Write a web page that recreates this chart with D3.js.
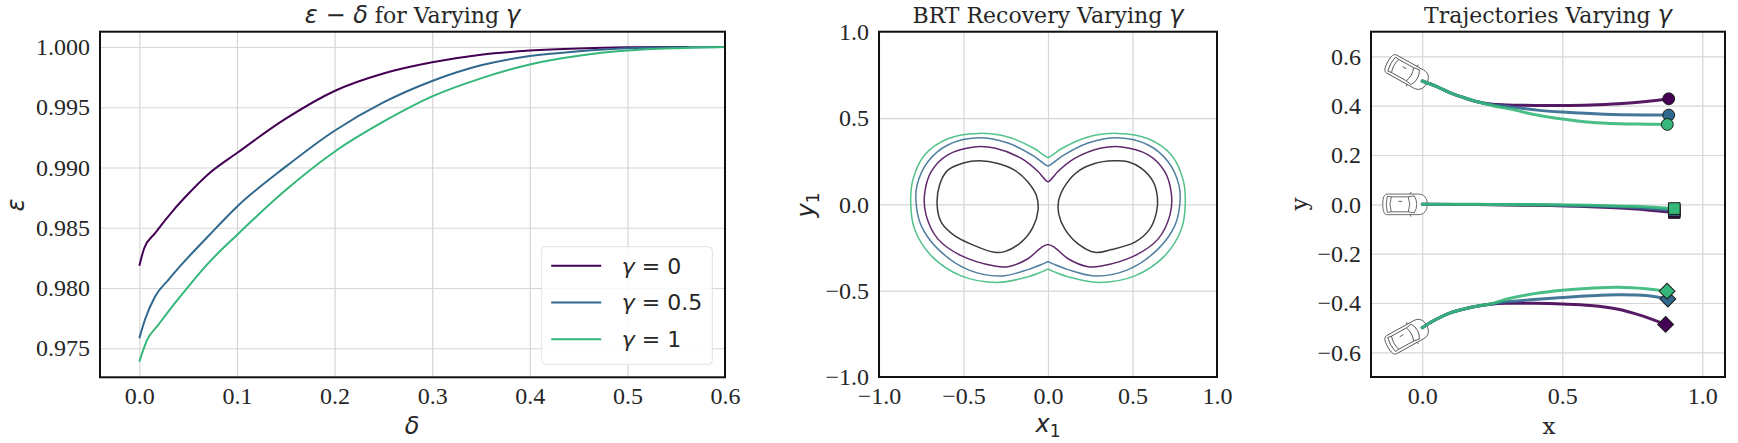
<!DOCTYPE html>
<html>
<head>
<meta charset="utf-8">
<title>epsilon delta, BRT, trajectories</title>
<script src="https://d3js.org/d3.v7.min.js"></script>
<style>
    body { margin: 0; background: #fff; }
    .serif { font-family: "DejaVu Serif", serif; fill: #262626; }
    .math { font-family: "DejaVu Sans", sans-serif; font-style: italic; }
    .upright { font-style: normal; }
</style>
</head>
<body>
<svg id="fig" width="1738" height="443"></svg>
<script>
// ---- data: epsilon vs delta for each gamma ----
var gammaLabels = ["0", "0.5", "1"];
var gammaColors = ["#440154", "#31688e", "#35b779"];

var epsG0 = [[0,0.98185],[0.005,0.9833],[0.016,0.98454],[0.035,0.98647],[0.05,0.9878],[0.07,0.9894],
    [0.1,0.9912],[0.15,0.99405],[0.2,0.99635],[0.25,0.9978],[0.3,0.99873],[0.35,0.99936],
    [0.4,0.9997],[0.45,0.99988],[0.5,0.99997],[0.563,1.0]];
var epsG05 = [[0,0.97583],[0.006,0.97743],[0.016,0.97928],[0.03,0.9807],[0.045,0.9821],[0.07,0.98425],
    [0.1,0.98675],[0.15,0.99007],[0.2,0.99305],[0.25,0.9954],[0.3,0.99718],[0.35,0.99848],
    [0.4,0.99925],[0.45,0.99965],[0.5,0.9999],[0.55,0.99998],[0.6,1.0]];
var epsG1 = [[0,0.97389],[0.008,0.97569],[0.02,0.977],[0.035,0.9786],[0.05,0.9801],[0.07,0.982],
    [0.1,0.9844],[0.15,0.98813],[0.2,0.99131],[0.25,0.9938],[0.3,0.9959],[0.35,0.9974],
    [0.4,0.99855],[0.45,0.99927],[0.5,0.9997],[0.55,0.9999],[0.6,1.0]];

var deltaTicks = [0, 0.1, 0.2, 0.3, 0.4, 0.5, 0.6];
var epsTicks = [0.975, 0.98, 0.985, 0.99, 0.995, 1.0];

// ---- data: BRT contours (x1, y1) ----
var brtLeftLobe = [[-0.656,-0.006],[-0.642,0.111],[-0.593,0.198],[-0.5,0.24],[-0.405,0.252],[-0.296,0.237],
    [-0.198,0.198],[-0.119,0.13],[-0.069,0.052],[-0.059,-0.035],[-0.089,-0.132],[-0.158,-0.219],
    [-0.257,-0.274],[-0.316,-0.278],[-0.435,-0.239],[-0.553,-0.181],[-0.632,-0.103]];
var brtRightLobe = [[0.385,0.252],[0.277,0.237],[0.188,0.198],[0.109,0.12],[0.063,0.023],[0.063,-0.054],
    [0.099,-0.142],[0.178,-0.229],[0.277,-0.278],[0.375,-0.262],[0.514,-0.219],[0.603,-0.142],
    [0.642,-0.045],[0.648,0.033],[0.623,0.13],[0.553,0.208],[0.474,0.247]];
var brtG0 = [[0,0.131],[-0.025,0.152],[-0.059,0.19],[-0.158,0.266],[-0.316,0.326],[-0.425,0.334],[-0.593,0.287],
    [-0.692,0.188],[-0.731,0.052],[-0.721,-0.064],[-0.652,-0.2],[-0.514,-0.297],[-0.316,-0.357],
    [-0.237,-0.361],[-0.119,-0.315],[-0.04,-0.25],[0,-0.232],[0.04,-0.25],[0.119,-0.315],
    [0.237,-0.361],[0.316,-0.357],[0.514,-0.297],[0.652,-0.2],[0.721,-0.064],[0.731,0.052],
    [0.692,0.188],[0.593,0.287],[0.425,0.334],[0.316,0.326],[0.158,0.266],[0.059,0.19],[0.025,0.152]];
var brtG05 = [[0,0.222],[-0.03,0.24],[-0.079,0.276],[-0.237,0.355],[-0.415,0.386],[-0.593,0.344],[-0.711,0.247],
    [-0.775,0.111],[-0.781,0.014],[-0.751,-0.122],[-0.652,-0.258],[-0.474,-0.378],[-0.277,-0.415],
    [-0.119,-0.378],[-0.03,-0.345],[0,-0.332],[0.03,-0.345],[0.119,-0.378],[0.277,-0.415],[0.474,-0.378],[0.652,-0.258],
    [0.751,-0.122],[0.781,0.014],[0.775,0.111],[0.711,0.247],[0.593,0.344],[0.415,0.386],
    [0.237,0.355],[0.079,0.276],[0.03,0.24]];
var brtG1 = [[0,0.272],[-0.03,0.288],[-0.079,0.322],[-0.237,0.39],[-0.415,0.411],[-0.593,0.38],[-0.731,0.285],
    [-0.8,0.14],[-0.812,0.0],[-0.79,-0.142],[-0.692,-0.297],[-0.514,-0.414],[-0.3,-0.452],
    [-0.119,-0.42],[-0.03,-0.388],[0,-0.376],[0.03,-0.388],[0.119,-0.42],[0.3,-0.452],[0.514,-0.414],[0.692,-0.297],
    [0.79,-0.142],[0.812,0.0],[0.8,0.14],[0.731,0.285],[0.593,0.38],[0.415,0.411],
    [0.237,0.39],[0.079,0.322],[0.03,0.288]];
var brtTicks = [-1, -0.5, 0, 0.5, 1];

// ---- data: trajectories (x, y) per gamma: [top, middle, bottom] ----
var trajG0 = [
    [[0,0.5],[0.05,0.478],[0.1,0.452],[0.15,0.432],[0.2,0.415],[0.25,0.406],[0.3,0.403],[0.4,0.401],
     [0.5,0.401],[0.6,0.403],[0.7,0.408],[0.8,0.417],[0.88,0.428]],
    [[0,0],[0.2,-0.001],[0.4,-0.004],[0.6,-0.01],[0.75,-0.018],[0.9,-0.033]],
    [[0,-0.5],[0.05,-0.466],[0.1,-0.44],[0.15,-0.424],[0.2,-0.412],[0.25,-0.404],[0.3,-0.401],
     [0.4,-0.401],[0.5,-0.404],[0.6,-0.41],[0.7,-0.425],[0.78,-0.45],[0.869,-0.487]]
];
var trajG05 = [
    [[0,0.5],[0.05,0.478],[0.1,0.452],[0.15,0.432],[0.2,0.415],[0.25,0.404],[0.32,0.395],[0.41,0.382],
     [0.5,0.374],[0.65,0.365],[0.8,0.362],[0.88,0.362]],
    [[0,0],[0.2,-0.001],[0.4,-0.003],[0.6,-0.007],[0.75,-0.013],[0.9,-0.025]],
    [[0,-0.5],[0.05,-0.466],[0.1,-0.44],[0.15,-0.424],[0.2,-0.412],[0.25,-0.404],[0.3,-0.395],
     [0.4,-0.386],[0.5,-0.378],[0.6,-0.371],[0.7,-0.367],[0.8,-0.37],[0.877,-0.384]]
];
var trajG1 = [
    [[0,0.5],[0.05,0.478],[0.1,0.452],[0.15,0.432],[0.2,0.415],[0.25,0.401],[0.32,0.385],[0.41,0.362],
     [0.5,0.346],[0.6,0.333],[0.7,0.327],[0.8,0.325],[0.875,0.324]],
    [[0,0],[0.2,0],[0.4,-0.001],[0.6,-0.004],[0.75,-0.008],[0.9,-0.017]],
    [[0,-0.5],[0.05,-0.466],[0.1,-0.44],[0.15,-0.424],[0.2,-0.412],[0.25,-0.402],[0.3,-0.385],
     [0.4,-0.362],[0.5,-0.348],[0.6,-0.34],[0.7,-0.336],[0.8,-0.342],[0.874,-0.352]]
];
var carStarts = [{x: 0, y: 0.5, heading: 29}, {x: 0, y: 0, heading: 0}, {x: 0, y: -0.5, heading: -29}];
var endShapes = ["circle", "square", "diamond"];
var trajXTicks = [0, 0.5, 1.0];
var trajYTicks = [-0.6, -0.4, -0.2, 0, 0.2, 0.4, 0.6];

var svg = d3.select("#fig");

// draw one axes box with grid + tick labels, returns scales
function makePanel(box, xDom, yDom, xTicks, yTicks, xFmt, yFmt) {
    var x = d3.scaleLinear().domain(xDom).range([box.left, box.right]);
    var y = d3.scaleLinear().domain(yDom).range([box.bottom, box.top]);
    var g = svg.append("g");
    var h = box.bottom - box.top, w = box.right - box.left;

    var ax = g.append("g")
        .attr("transform", "translate(0," + box.bottom + ")")
        .call(d3.axisBottom(x).tickValues(xTicks).tickFormat(d3.format(xFmt))
            .tickSizeInner(-h).tickSizeOuter(0).tickPadding(10));
    var ay = g.append("g")
        .attr("transform", "translate(" + box.left + ",0)")
        .call(d3.axisLeft(y).tickValues(yTicks).tickFormat(d3.format(yFmt))
            .tickSizeInner(-w).tickSizeOuter(0).tickPadding(10));
    [ax, ay].forEach(function(a) {
        a.select(".domain").remove();
        a.selectAll(".tick line").attr("stroke", "#d6d6d6").attr("stroke-width", 1.2);
        a.selectAll(".tick text")
            .style("font-family", "'Liberation Serif', serif")
            .style("font-size", "24px")
            .attr("fill", "#262626");
    });

    var plot = g.append("g");
    // frame on top
    g.append("rect")
        .attr("x", box.left).attr("y", box.top).attr("width", w).attr("height", h)
        .attr("fill", "none").attr("stroke", "#111").attr("stroke-width", 2);
    return {x: x, y: y, plot: plot, g: g, box: box};
}

// title with mixed math and serif parts
function addTitle(p, parts) {
    var t = svg.append("text")
        .attr("x", (p.box.left + p.box.right) / 2)
        .attr("y", 23)
        .attr("text-anchor", "middle")
        .attr("class", "serif")
        .style("font-size", "22px");
    parts.forEach(function(s) {
        var sp = t.append("tspan").attr("class", s[1]).text(s[0]);
        if (s[1].indexOf("math") >= 0) sp.style("font-size", "24px");
    });
}

// ---------------- panel 1 ----------------
var p1 = makePanel({left: 100, right: 725, top: 31.7, bottom: 377.3},
    [-0.0403, 0.6], [0.97259, 1.00127], deltaTicks, epsTicks, ".1f", ".3f");

var line1 = d3.line().x(function(d) { return p1.x(d[0]); }).y(function(d) { return p1.y(d[1]); })
    .curve(d3.curveMonotoneX);
[epsG0, epsG05, epsG1].forEach(function(s, i) {
    p1.plot.append("path").datum(s)
        .attr("d", line1)
        .attr("fill", "none")
        .attr("stroke", gammaColors[i])
        .attr("stroke-width", 2);
});

addTitle(p1, [["\u03b5", "math"], [" \u2212 ", "math upright"], ["\u03b4", "math"], [" for Varying ", ""], ["\u03b3", "math"]]);

svg.append("text").attr("class", "math").attr("x", 412).attr("y", 434)
    .attr("text-anchor", "middle").style("font-size", "24px").attr("fill", "#262626").text("\u03b4");
svg.append("text").attr("class", "math").attr("transform", "translate(24,205) rotate(-90)")
    .attr("text-anchor", "middle").style("font-size", "24px").attr("fill", "#262626").text("\u03b5");

// legend
var leg = svg.append("g").attr("transform", "translate(541.7,246.7)");
leg.append("rect").attr("width", 170.6).attr("height", 117.6).attr("rx", 4)
    .attr("fill", "#fff").attr("fill-opacity", 0.85).attr("stroke", "#e2e2e2").attr("stroke-width", 1);
gammaLabels.forEach(function(lbl, i) {
    var yy = 19 + i * 36.8;
    leg.append("line").attr("x1", 9.5).attr("x2", 59.5).attr("y1", yy).attr("y2", yy)
        .attr("stroke", gammaColors[i]).attr("stroke-width", 2);
    var t = leg.append("text").attr("x", 80).attr("y", yy + 8)
        .style("font-family", "DejaVu Sans").style("font-size", "22px").attr("fill", "#262626");
    t.append("tspan").style("font-style", "italic").text("\u03b3");
    t.append("tspan").text(" = " + lbl);
});

// ---------------- panel 2 ----------------
var p2 = makePanel({left: 879, right: 1217, top: 31.7, bottom: 377},
    [-1, 1], [-1, 1], brtTicks, brtTicks, ".1f", ".1f");
var line2 = d3.line().x(function(d) { return p2.x(d[0]); }).y(function(d) { return p2.y(d[1]); })
    .curve(d3.curveCatmullRomClosed.alpha(0.5));
var contours = [
    {pts: brtLeftLobe, c: "#1a1a1a"}, {pts: brtRightLobe, c: "#1a1a1a"},
    {pts: brtG0, c: gammaColors[0]}, {pts: brtG05, c: gammaColors[1]}, {pts: brtG1, c: gammaColors[2]}
];
contours.forEach(function(c) {
    p2.plot.append("path").datum(c.pts)
        .attr("d", line2).attr("fill", "none")
        .attr("stroke", c.c).attr("stroke-opacity", 0.85).attr("stroke-width", 1.5);
});
addTitle(p2, [["BRT Recovery Varying ", ""], ["\u03b3", "math"]]);

var xl2 = svg.append("text").attr("class", "math").attr("x", 1048).attr("y", 432)
    .attr("text-anchor", "middle").style("font-size", "24px").attr("fill", "#262626");
xl2.append("tspan").text("x");
xl2.append("tspan").attr("class", "upright").attr("dy", 5).style("font-size", "17px").text("1");
var yl2 = svg.append("text").attr("class", "math").attr("transform", "translate(814,205) rotate(-90)")
    .attr("text-anchor", "middle").style("font-size", "24px").attr("fill", "#262626");
yl2.append("tspan").text("y");
yl2.append("tspan").attr("class", "upright").attr("dy", 5).style("font-size", "17px").text("1");

// ---------------- panel 3 ----------------
var p3 = makePanel({left: 1371, right: 1725, top: 31.7, bottom: 377},
    [-0.183, 1.081], [-0.7, 0.7], trajXTicks, trajYTicks, ".1f", ".1f");
var line3 = d3.line().x(function(d) { return p3.x(d[0]); }).y(function(d) { return p3.y(d[1]); })
    .curve(d3.curveCatmullRom);

// cars at the start positions (top view, front at start point)
function drawCar(g, cx, cy, angle) {
    var car = g.append("g").attr("transform", "translate(" + cx + "," + cy + ") rotate(" + angle + ")")
        .attr("fill", "#fff").attr("stroke", "#444").attr("stroke-width", 0.8);
    car.append("path").attr("d", "M-35,-10.3 L-4,-10.3 C2,-10.3 5,-6 5,0 C5,6 2,10.3 -4,10.3 L-35,10.3 C-38,10.3 -39.5,7 -39.5,0 C-39.5,-7 -38,-10.3 -35,-10.3 Z");
    car.append("path").attr("d", "M-14,-7.5 L-8,-8.5 Q-3,0 -8,8.5 L-14,7.5 Q-11,0 -14,-7.5 Z");
    car.append("path").attr("d", "M-31,-7.5 Q-33.5,0 -31,7.5 L-35,8 Q-37,0 -35,-8 Z");
    car.append("path").attr("fill", "none").attr("d", "M-14,-7.5 L-31,-7.5 M-14,7.5 L-31,7.5 M-12,-10.3 L-11,-12.3 M-12,10.3 L-11,12.3 M-24,-3 L-20,-3");
}
carStarts.forEach(function(c) {
    drawCar(p3.plot, p3.x(c.x), p3.y(c.y), c.heading);
});

[trajG0, trajG05, trajG1].forEach(function(set, gi) {
    set.forEach(function(tr, ti) {
        p3.plot.append("path").datum(tr)
            .attr("d", line3).attr("fill", "none")
            .attr("stroke", gammaColors[gi]).attr("stroke-opacity", 0.9)
            .attr("stroke-width", 3).attr("stroke-linecap", "round");
    });
    set.forEach(function(tr, ti) {
        var end = tr[tr.length - 1];
        var shape = endShapes[ti];
        var sym, rot = 0;
        if (shape == "circle") {
            sym = d3.symbol().type(d3.symbolCircle).size(110);
        } else if (shape == "square") {
            sym = d3.symbol().type(d3.symbolSquare).size(135);
        } else {
            sym = d3.symbol().type(d3.symbolSquare).size(125);
            rot = 45;
        }
        p3.plot.append("path")
            .attr("d", sym())
            .attr("transform", "translate(" + p3.x(end[0]) + "," + p3.y(end[1]) + ") rotate(" + rot + ")")
            .attr("fill", gammaColors[gi])
            .attr("stroke", "#1a1a1a").attr("stroke-width", 1);
    });
});

addTitle(p3, [["Trajectories Varying ", ""], ["\u03b3", "math"]]);
svg.append("text").attr("class", "serif").attr("x", 1549).attr("y", 434)
    .attr("text-anchor", "middle").style("font-size", "23px").text("x");
svg.append("text").attr("class", "serif").attr("transform", "translate(1307,204) rotate(-90)")
    .attr("text-anchor", "middle").style("font-size", "23px").text("y");
</script>
</body>
</html>
